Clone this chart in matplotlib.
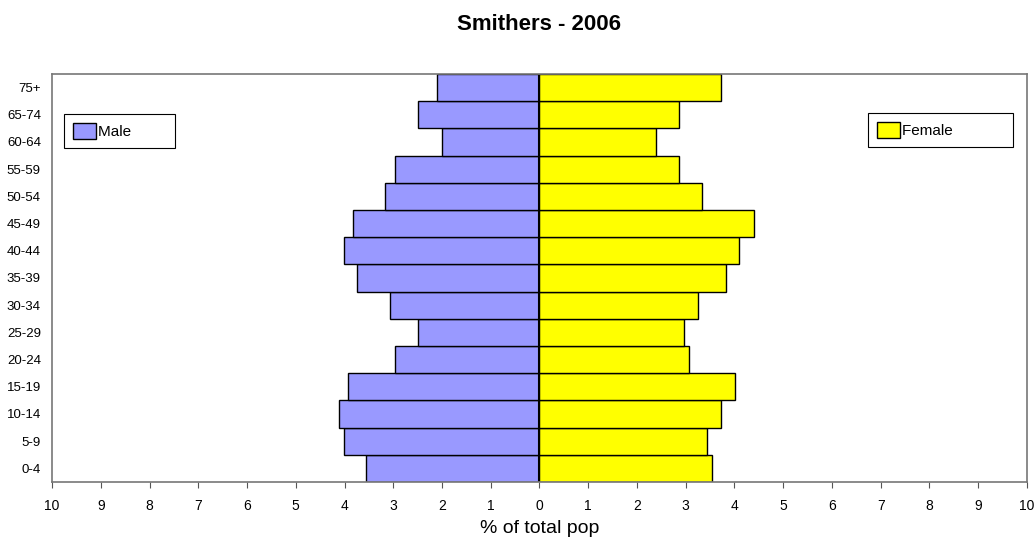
import matplotlib.pyplot as plt
from matplotlib.patches import Patch

plt.rcParams['font.family'] = ['Liberation Sans', 'DejaVu Sans']

# age groups, bottom to top
age_groups = ['0-4', '5-9', '10-14', '15-19', '20-24', '25-29', '30-34', '35-39',
              '40-44', '45-49', '50-54', '55-59', '60-64', '65-74', '75+']
male = [3.55, 4.02, 4.11, 3.93, 2.97, 2.49, 3.07, 3.74,
        4.02, 3.83, 3.16, 2.97, 2.01, 2.49, 2.11]
female = [3.53, 3.44, 3.73, 4.01, 3.06, 2.96, 3.25, 3.82,
          4.10, 4.40, 3.34, 2.86, 2.38, 2.86, 3.73]
x_ticks = list(range(-10, 11))

fig = plt.figure(figsize=(10.36, 5.42), dpi=100)
ax = fig.add_axes([0.0502, 0.1107, 0.9411, 0.7528])

ypos = range(len(age_groups))
ax.barh(ypos, [-v for v in male], height=1.0, color='#9999FF', edgecolor='black', linewidth=1)
ax.barh(ypos, female, height=1.0, color='#FFFF00', edgecolor='black', linewidth=1)
ax.axvline(0, color='black', linewidth=1.5)

ax.set_xlim(-10, 10)
ax.set_ylim(-0.5, len(age_groups) - 0.5)
ax.set_xticks(x_ticks)
ax.set_xticklabels([str(abs(t)) for t in x_ticks], fontsize=10)
ax.set_yticks(list(ypos))
ax.set_yticklabels(age_groups, fontsize=9.5)
ax.tick_params(axis='y', length=0, pad=8)
ax.tick_params(axis='x', direction='out', length=4, pad=8, color='#555555')
for s in ax.spines.values():
    s.set_color('#777777')
    s.set_linewidth(1.2)

ax.set_xlabel('% of total pop', fontsize=14, labelpad=5)
ax.set_title('Smithers - 2006', fontsize=16, fontweight='bold', pad=32)

leg_kw = dict(fontsize=11, fancybox=False, framealpha=1, edgecolor='black',
              handlelength=1.5, handleheight=1.2, handletextpad=0.15, borderpad=0.6,
              borderaxespad=0)
leg1 = ax.legend(handles=[Patch(facecolor='#9999FF', edgecolor='black', label='Male        ')],
                 loc='upper left', bbox_to_anchor=(0.0123, 0.902), **leg_kw)
leg1.get_frame().set_linewidth(0.8)
ax.add_artist(leg1)
leg2 = ax.legend(handles=[Patch(facecolor='#FFFF00', edgecolor='black', label='Female            ')],
                 loc='upper right', bbox_to_anchor=(0.9856, 0.904), **leg_kw)
leg2.get_frame().set_linewidth(0.8)

fig.savefig('out.png', dpi=100)
